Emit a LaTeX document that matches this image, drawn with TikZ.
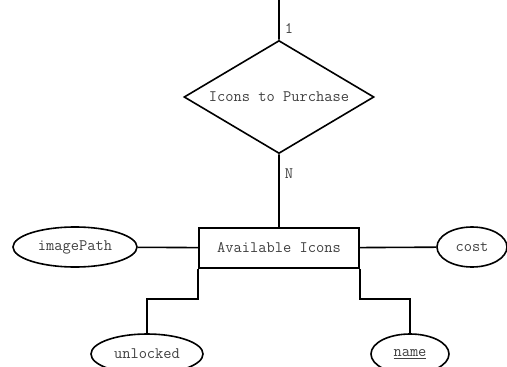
\documentclass[tikz,border=0pt]{standalone}
\usetikzlibrary{shapes.geometric}
\begin{document}
\begin{tikzpicture}[x=1pt,y=-1pt,line width=1.6pt,
  every node/.style={font=\fontsize{16}{18}\selectfont\ttfamily,text=black!75},
  entity/.style={draw,rectangle,minimum width=160pt,minimum height=40pt,inner sep=0pt},
  relation/.style={draw,diamond,aspect=1.68,minimum width=190pt,minimum height=113pt,inner sep=0pt},
  attrib/.style={draw,ellipse,minimum height=40pt,inner sep=0pt},
  card/.style={inner sep=1pt}]
\useasboundingbox (0,0) rectangle (507,367);
\coordinate (top) at (279,0);
\node[relation] at (279,97) (buy) {Icons to Purchase};
\node[entity] at (279,248) (icons) {Available Icons};
\node[attrib,minimum width=124pt] at (75,247) (path) {imagePath};
\node[attrib,minimum width=70pt] at (472,247) (cost) {cost};
\node[attrib,minimum width=112pt] at (147,354) (unl) {unlocked};
\node[attrib,minimum width=78pt] at (410,354) (name) {\underline{name}};
\node[card] at (289,29) (one) {1};
\node[card] at (289,174) (many) {N};
\draw (top) -- (buy.north)
      (buy.south) -- (icons.north)
      (path) -- (icons)
      (icons) -- (cost);
\draw (icons.south west) -- ++(0,30) -| (unl.north)
      (icons.south east) -- ++(0,30) -| (name.north);
\end{tikzpicture}
\end{document}
